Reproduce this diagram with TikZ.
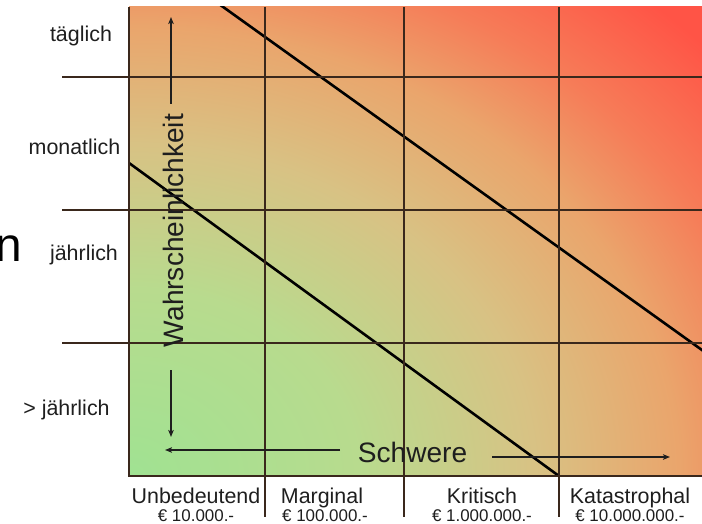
\documentclass[tikz,border=0pt]{standalone}
\usepackage{fontspec}
\setmainfont{Liberation Sans}
\usetikzlibrary{arrows.meta}

% colour ramp of the risk field, from the harmless corner to the critical one
\definecolor{rgreen}{RGB}{160,226,146}
\definecolor{ryg}{RGB}{184,219,142}
\definecolor{rtan}{RGB}{216,194,132}
\definecolor{rorange}{RGB}{234,165,108}
\definecolor{rsalmon}{RGB}{246,124,88}
\definecolor{rred}{RGB}{255,84,70}
\definecolor{gridc}{RGB}{58,40,28}
\definecolor{txt}{RGB}{30,30,30}

% radial ramp; 25bp is mapped onto the width/height of the field
\pgfdeclareradialshading{riskglow}{\pgfpoint{0bp}{0bp}}{%
  color(0bp)=(rgreen); color(10bp)=(ryg); color(17.7bp)=(rtan);
  color(24bp)=(rorange); color(28.5bp)=(rsalmon); color(34bp)=(rred);
  color(50bp)=(rred)}

\begin{document}
\begin{tikzpicture}[x=1bp, y=-1bp,
  gridline/.style={line width=1.2bp, draw=gridc},
  riskline/.style={line width=2.6bp, draw=black},
  axisarrow/.style={line width=1.1bp, draw=txt,
    -{Stealth[length=7bp, width=5.5bp, inset=1.5bp]}},
  rowlabel/.style={anchor=base, inner sep=0pt, text=txt,
    font=\fontsize{21.5}{24}\selectfont},
  costlabel/.style={anchor=base, inner sep=0pt, text=txt,
    font=\fontsize{17}{20}\selectfont},
  axistitle/.style={anchor=base, inner sep=0pt, text=txt,
    font=\fontsize{28.2}{32}\selectfont}]

\useasboundingbox (0,0) rectangle (702,524);

% risk field with its two boundary lines
\begin{scope}
  \clip (129,7) rectangle (702,476);
  \shade[shading=riskglow] (-444,7) rectangle (702,945);
  \draw[riskline] (213.4,0) -- (712,357.2);
  \draw[riskline] (119,155.7) -- (569,483.3);
\end{scope}

% grid
\draw[gridline] (62,77) -- (702,77);
\draw[gridline] (62,210) -- (702,210);
\draw[gridline] (62,343) -- (702,343);
\draw[gridline] (265,7) -- (265,517);
\draw[gridline] (404,7) -- (404,517);
\draw[gridline] (559,7) -- (559,517);
\draw[gridline] (129,7) -- (129,476) -- (702,476);

% frequency classes
\node[rowlabel] (f1) at (81,42) {täglich};
\node[rowlabel] (f2) at (74.5,155) {monatlich};
\node[rowlabel] (f3) at (84,261) {jährlich};
\node[rowlabel] (f4) at (66.5,415) {> jährlich};

% severity classes and damage amounts
\node[rowlabel] (s1) at (196,503) {Unbedeutend};
\node[rowlabel] (s2) at (322,503) {Marginal};
\node[rowlabel] (s3) at (482,503) {Kritisch};
\node[rowlabel] (s4) at (630,503) {Katastrophal};
\node[costlabel] (c1) at (196,521) {€ 10.000.-};
\node[costlabel] (c2) at (325,521) {€ 100.000.-};
\node[costlabel] (c3) at (482,521) {€ 1.000.000.-};
\node[costlabel] (c4) at (630,521) {€ 10.000.000.-};

% axis titles with their arrows
\node[axistitle, rotate=90] (wahr) at (183,230.5) {Wahrscheinlichkeit};
\node[axistitle] (schw) at (412.5,462) {Schwere};

\coordinate (upFrom) at (171,104);
\coordinate (upTo) at (171,17);
\coordinate (downFrom) at (171,370);
\coordinate (downTo) at (171,437);
\coordinate (leftFrom) at (340,450);
\coordinate (leftTo) at (165,450);
\coordinate (rightFrom) at (492,457);
\coordinate (rightTo) at (670,457);
\draw[axisarrow] (upFrom) -- (upTo);
\draw[axisarrow] (downFrom) -- (downTo);
\draw[axisarrow] (leftFrom) -- (leftTo);
\draw[axisarrow] (rightFrom) -- (rightTo);

% letter cut off at the left edge
\node[anchor=base east, inner sep=0pt, text=black,
  font=\fontsize{48}{52}\selectfont] (cut) at (22.2,262) {n};
\end{tikzpicture}
\end{document}
